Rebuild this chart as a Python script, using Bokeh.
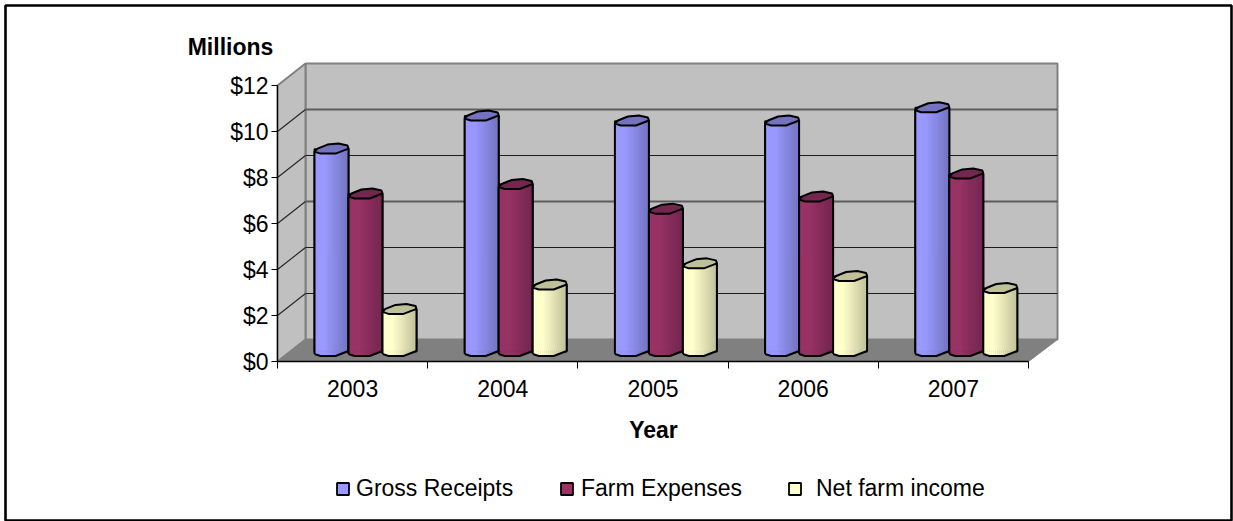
from bokeh.core.properties import value
from bokeh.embed import file_html
from bokeh.resources import INLINE
from bokeh.plotting import figure
from bokeh.models import FixedTicker, Legend, LegendItem, LinearAxis, PrintfTickFormatter, Range1d

years = ["2003", "2004", "2005", "2006", "2007"]
gross_receipts = [8.8, 10.24, 10.02, 10.02, 10.6]
farm_expenses = [6.85, 7.26, 6.19, 6.72, 7.72]
net_farm_income = [1.83, 2.89, 3.81, 3.26, 2.74]
series_names = ["Gross Receipts", "Farm Expenses", "Net farm income"]
y_ticks = [0, 2, 4, 6, 8, 10, 12]

FONT = "Liberation Sans"
W, H = 1233, 521
# pixel position of the value/category origin and pixel size of one category / one million
ORIGIN_X, ORIGIN_Y = 277, 361
PX_X = 150.2
PX_Y = 23.0
N = len(years)


def sx(px):
    return (px - ORIGIN_X) / PX_X


def sy(py):
    return (ORIGIN_Y - py) / PX_Y


# oblique depth of the box and far edge of the back wall
DEPTH_X = 28 / PX_X
DEPTH_Y = 22 / PX_Y
BACK_RIGHT = sx(1057)

p = figure(width=W, height=H, output_backend="svg", toolbar_location=None,
           x_range=Range1d(sx(0), sx(W)), y_range=Range1d(sy(H), sy(0)),
           min_border=0, background_fill_color="white", border_fill_color="white",
           outline_line_color=None, x_axis_type=None, y_axis_type=None)
p.grid.visible = False

# chart-area border
p.quad(left=sx(5), right=sx(1231), top=sy(5), bottom=sy(520),
       fill_alpha=0, line_color="black", line_width=2.6)

# walls and floor
WALL = "#c0c0c0"
EDGE = "#808080"
p.patch([DEPTH_X, BACK_RIGHT, BACK_RIGHT, DEPTH_X],
        [DEPTH_Y, DEPTH_Y, 12 + DEPTH_Y, 12 + DEPTH_Y],
        fill_color=WALL, line_color=EDGE, line_width=2)
p.patch([0, DEPTH_X, DEPTH_X, 0], [0, DEPTH_Y, 12 + DEPTH_Y, 12],
        fill_color=WALL, line_color=EDGE, line_width=2)
p.patch([0, DEPTH_X, BACK_RIGHT, N], [0, DEPTH_Y, DEPTH_Y, 0],
        fill_color=EDGE, line_color=EDGE, line_width=1)

# gridlines run along the side wall, then across the back wall
for t in y_ticks[1:-1]:
    p.line([0, DEPTH_X], [t, t + DEPTH_Y], line_color="#222222", line_width=1.1)
    heavy = t in (6, 10)
    p.line([DEPTH_X, BACK_RIGHT], [t + DEPTH_Y, t + DEPTH_Y],
           line_color="#5c5c5c" if heavy else "#1c1c1c", line_width=2 if heavy else 1.2)

# cylinder outline offsets, pixels: front edge of the rim and the back edge
FRONT = [(0, -2.5), (6, -4.5), (21, -4.5), (34, 0.5)]
BACK = [(33, 3.5), (24, 5.5), (13, 4.5), (3, 0.5)]
BAR_W = 34.0
BASE_Y = 10.0 / PX_Y

PALETTE = {
    0: ("#9999ff", "#7373bf"),
    1: ("#993366", "#732650"),
    2: ("#ffffcc", "#bfbf99"),
}


def mix(a, b, t):
    ca = [int(a[i:i + 2], 16) for i in (1, 3, 5)]
    cb = [int(b[i:i + 2], 16) for i in (1, 3, 5)]
    return "#%02x%02x%02x" % tuple(round(u + (v - u) * t) for u, v in zip(ca, cb))


def front_offset(dx):
    for (x0, y0), (x1, y1) in zip(FRONT, FRONT[1:]):
        if dx <= x1:
            return y0 + (y1 - y0) * (dx - x0) / (x1 - x0)
    return FRONT[-1][1]


def draw_cylinder(x0, val, s):
    light, dark = PALETTE[s]
    top = BASE_Y + val
    # plain column behind the shading strips; the legend swatch takes its style from it
    swatch = p.vbar(x=[x0 + BAR_W / 2 / PX_X], width=BAR_W / PX_X, bottom=BASE_Y, top=top,
                    fill_color=light, line_color="black", line_width=1.8)
    strips = 17
    step = BAR_W / strips
    for i in range(strips):
        t = (i + 0.5) / strips
        shade = 0 if t < 0.3 else (t - 0.3) / 0.7
        a, b = i * step, (i + 1) * step
        off = min(front_offset(a), front_offset(b))
        colour = mix(light, dark, shade)
        p.quad(left=x0 + a / PX_X, right=x0 + b / PX_X,
               bottom=BASE_Y + off / PX_Y, top=top + off / PX_Y,
               fill_color=colour, line_color=colour, line_width=0.6)
    # silhouette of the column: curved base, then up the right side and down the left
    xs = [x0 + dx / PX_X for dx, _ in FRONT]
    bottom_edge = [BASE_Y + dy / PX_Y for _, dy in FRONT]
    p.line(xs + [xs[-1], xs[0], xs[0]],
           bottom_edge + [top + FRONT[-1][1] / PX_Y, top + FRONT[0][1] / PX_Y, bottom_edge[0]],
           line_color="black", line_width=2)
    rim = FRONT + BACK
    p.patch([x0 + dx / PX_X for dx, _ in rim], [top + dy / PX_Y for _, dy in rim],
            fill_color=dark, line_color="black", line_width=2)
    return swatch


swatches = {}
first_bar = 37 / PX_X
for c in range(N):
    start = c + first_bar
    for s, values in enumerate((gross_receipts, farm_expenses, net_farm_income)):
        swatches.setdefault(s, draw_cylinder(start + s * BAR_W / PX_X, values[c], s))

# axis lines stop at the last tick, so they are stroked on their own
p.line([0, 0], [0, 12], line_color="black", line_width=1.2)
p.line([0, N], [0, 0], line_color="black", line_width=1.6)

yaxis = LinearAxis(fixed_location=0, ticker=FixedTicker(ticks=y_ticks),
                   formatter=PrintfTickFormatter(format="$%d"),
                   axis_line_color=None, major_tick_out=6, major_tick_in=0, minor_tick_out=0,
                   major_tick_line_color="black", major_label_text_font=FONT,
                   major_label_text_font_size="23px", major_label_text_color="black",
                   major_label_standoff=3)
p.add_layout(yaxis, "left")

xaxis = LinearAxis(fixed_location=0,
                   ticker=FixedTicker(ticks=[i + 0.5 for i in range(N)], minor_ticks=list(range(N + 1))),
                   major_label_overrides={i + 0.5: y for i, y in enumerate(years)},
                   axis_line_color=None, major_tick_out=0, major_tick_in=0, minor_tick_out=7,
                   minor_tick_in=0, minor_tick_line_color="black", major_label_text_font=FONT,
                   major_label_text_font_size="23px", major_label_text_color="black",
                   major_label_standoff=11)
p.add_layout(xaxis, "below")

# axis titles
p.text(x=[sx(230)], y=[sy(46)], text=["Millions"], text_font=value(FONT), text_font_size="23px",
       text_font_style="bold", text_color="black", text_align="center", text_baseline="middle")
p.text(x=[sx(653)], y=[sy(429)], text=["Year"], text_font=value(FONT), text_font_size="23px",
       text_font_style="bold", text_color="black", text_align="center", text_baseline="middle")

# one legend per series, since the three entries are not evenly spaced
for s, (left, standoff) in enumerate(((335, 6), (559, 7), (787, 14))):
    p.add_layout(Legend(items=[LegendItem(label=series_names[s], renderers=[swatches[s]])],
                        location=(left, H - 502), background_fill_alpha=0, border_line_color=None,
                        label_text_font=FONT, label_text_font_size="23px",
                        label_text_color="black", glyph_width=15, glyph_height=15,
                        label_standoff=standoff, margin=0, padding=0))

open("out.html", "w").write(file_html(p, INLINE))
